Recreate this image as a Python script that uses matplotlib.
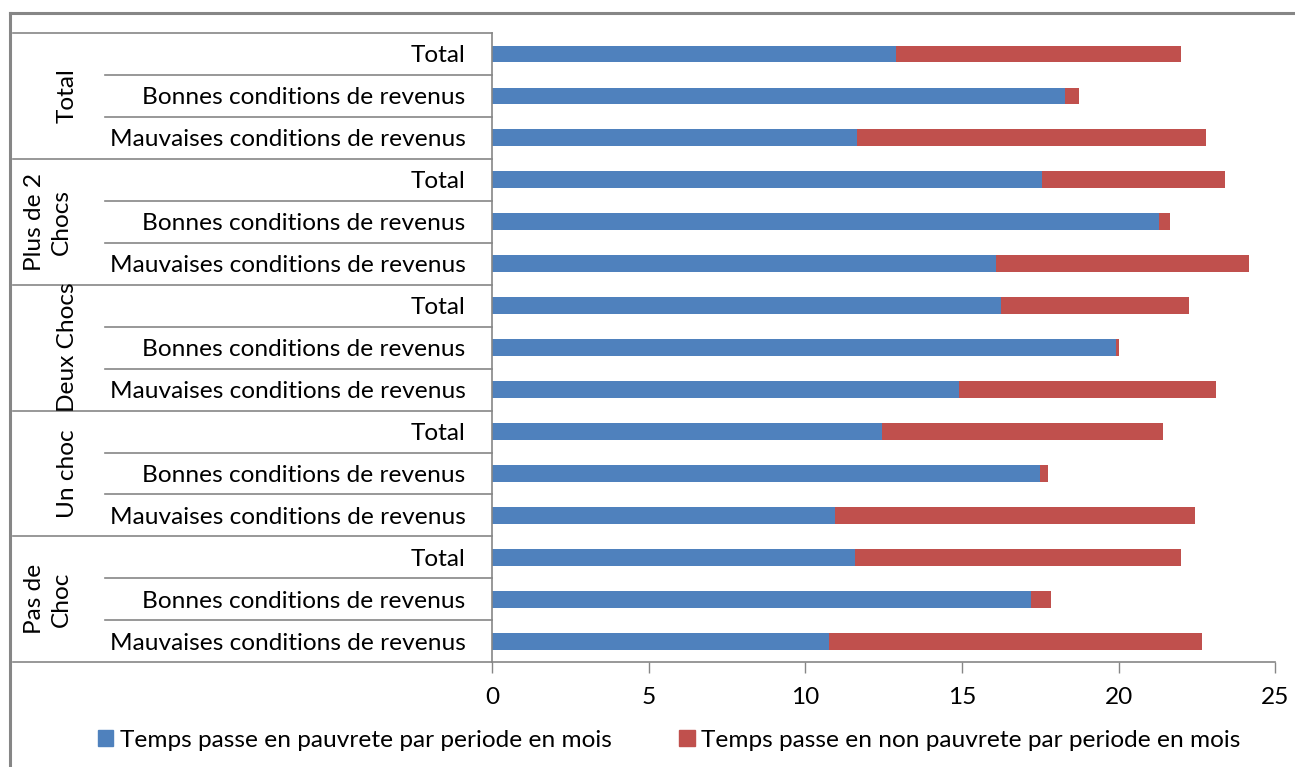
import numpy as np
import matplotlib
matplotlib.use('Agg')
import matplotlib.pyplot as plt
from matplotlib.patches import Patch
from matplotlib.lines import Line2D
from matplotlib.transforms import blended_transform_factory

plt.rcParams['font.family'] = ['Lato', 'DejaVu Sans']

# data, top row first
groups = ['Total', 'Plus de 2\nChocs', 'Deux Chocs', 'Un choc', 'Pas de\nChoc']
sub_labels = ['Total', 'Bonnes conditions de revenus', 'Mauvaises conditions de revenus']
# temps en pauvrete (mois)
pauvrete = [12.9, 18.3, 11.65,
            17.55, 21.3, 16.1,
            16.25, 19.9, 14.9,
            12.45, 17.5, 10.95,
            11.6, 17.2, 10.75]
# temps total (pauvrete + non pauvrete)
total = [22.0, 18.75, 22.8,
         23.4, 21.65, 24.15,
         22.25, 20.0, 23.1,
         21.4, 17.75, 22.45,
         22.0, 17.85, 22.65]
non_pauvrete = [t - p for t, p in zip(total, pauvrete)]
legend_labels = ['Temps passe en pauvrete par periode en mois',
                 'Temps passe en non pauvrete par periode en mois']

blue = '#4F81BD'
red = '#C0504D'
grey = '#868686'
W, H = 1295, 767
fs = 17.6

fig = plt.figure(figsize=(W / 100, H / 100), dpi=100)
ax = fig.add_axes([492 / W, 1 - 662.3 / H, (1275.3 - 492) / W, (662.3 - 33) / H])

n = len(pauvrete)
y = np.arange(n)
ax.barh(y, pauvrete, height=0.4, color=blue)
ax.barh(y, non_pauvrete, left=pauvrete, height=0.4, color=red)

ax.set_ylim(n - 0.5, -0.5)
ax.set_xlim(0, 25)
ax.set_xticks([0, 5, 10, 15, 20, 25])
ax.tick_params(axis='x', length=8, width=1, color=grey, direction='out', pad=9.5, labelsize=fs)
ax.set_yticks(y)
ax.set_yticklabels(sub_labels * len(groups), fontsize=fs)
ax.tick_params(axis='y', length=0, pad=19)
for s in ['top', 'right']:
    ax.spines[s].set_visible(False)
for s in ['left', 'bottom']:
    ax.spines[s].set_color(grey)
    ax.spines[s].set_linewidth(1.2)

# multi-level category lines
tr = blended_transform_factory(fig.transFigure, ax.transData)
for k in range(n + 1):
    yy = k - 0.5
    x0 = 13 / W if k % 3 == 0 else 105 / W
    ax.add_line(Line2D([x0, 492 / W], [yy, yy], transform=tr, color=grey, lw=1.2, clip_on=False))

# group labels
for i, g in enumerate(groups):
    xg = 48 if '\n' in g else 67
    ax.text(xg / W, 3 * i + 1, g, transform=tr, rotation=90, ha='center', va='center',
            fontsize=fs, multialignment='center', linespacing=1.35)

# chart frame
fig.add_artist(Line2D([10 / W, 1], [1 - 13 / H, 1 - 13 / H], color=grey, lw=2.2))
fig.add_artist(Line2D([10 / W, 10 / W], [0, 1 - 13 / H], color=grey, lw=2.2))

handles = [Patch(color=blue), Patch(color=red)]
fig.legend(handles, legend_labels, loc='center', bbox_to_anchor=(0.517, 0.035), ncol=2,
           frameon=False, fontsize=fs, handlelength=0.62, handleheight=0.62,
           handletextpad=0.28, columnspacing=2.75)

fig.savefig('out.png', dpi=100)
